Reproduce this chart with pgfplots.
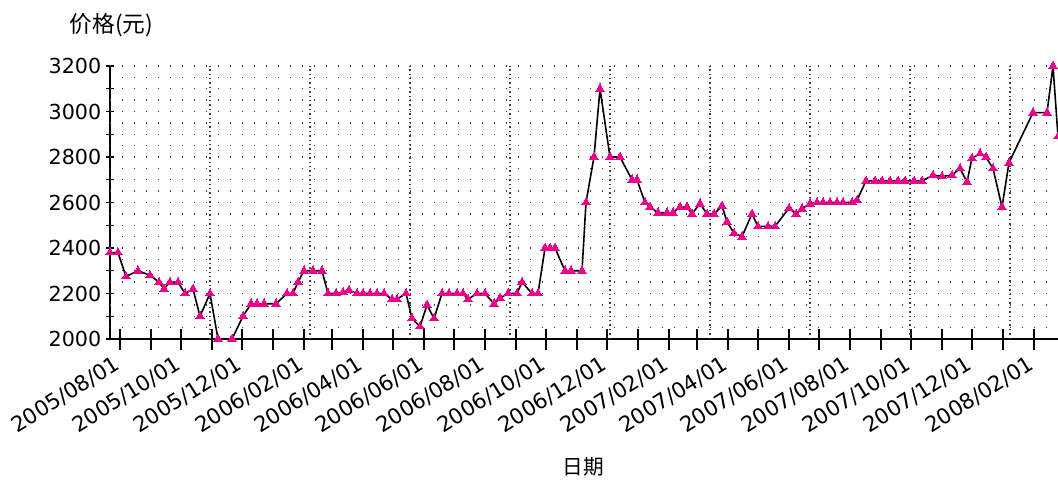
\documentclass[border=0pt]{standalone}
\usepackage{pgfplots}
\pgfplotsset{compat=1.18}
\usepackage{fontspec}
\setmainfont{DejaVu Sans}
\newfontfamily\cjk{Noto Sans CJK SC}

\tikzset{dots/.style={black!75, line width=1.1pt, dash pattern=on 1.1pt off #1}}
\pgfplotsset{
  frame/.style={
    at={(82.5pt,-254.25pt)}, anchor=south west,
    scale only axis, width=711pt, height=204.75pt,
    xmin=-10, xmax=938, ymin=2000, ymax=3200,
    axis line style={line width=1.5pt},
    tick align=center,
    tick style={line width=1.1pt, black},
  },
}

% x = days since 2005/08/01, y = price
\begin{document}
\begin{tikzpicture}
\path[use as bounding box] (0,0) rectangle (793.5pt,-359.25pt);
% y axis, its labels and the row grid
\begin{axis}[frame,
  axis x line=none, axis y line*=left,
  major tick length=6pt, minor tick length=6pt,
  ytick={2000,2200,...,3200},
  minor ytick={2100,2300,...,3100},
  /pgf/number format/assume math mode=true,
  /pgf/number format/1000 sep={},
  yticklabel style={anchor=east, font=\fontsize{15.5}{18}\selectfont},
  extra y ticks={2050,2100,...,3200},
  extra y tick labels={},
  extra y tick style={grid=major, major tick length=0pt,
    major grid style={dots=7.9pt}},
]
\end{axis}
% x axis, column grid and data
\begin{axis}[frame,
  clip=false,
  axis x line*=bottom, axis y line=none,
  major tick length=15.75pt, minor tick length=15.75pt,
  xtick={0,61,122,184,243,304,365,426,487,549,608,669,730,791,852,914},
  xticklabels={2005/08/01,2005/10/01,2005/12/01,2006/02/01,2006/04/01,2006/06/01,2006/08/01,2006/10/01,2006/12/01,2007/02/01,2007/04/01,2007/06/01,2007/08/01,2007/10/01,2007/12/01,2008/02/01},
  minor xtick={31,92,153,212,273,334,396,457,518,577,638,699,761,822,883},
  xticklabel style={rotate=32, anchor=north east, xshift=-3pt, yshift=3pt,
    font=\fontsize{16}{18}\selectfont},
  extra x ticks={90,190,...,890},
  extra x tick labels={},
  extra x tick style={grid=major, major tick length=0pt,
    major grid style={dots=2.2pt}},
]
\addplot[black, line width=1.2pt, mark=triangle*, mark size=3.6pt,
  mark options={fill=magenta, draw=magenta, line width=0pt}] coordinates {
(-10,2380)(-2,2380)(6,2275)(18,2300)(30,2280)(39,2250)(44,2220)(50,2250)(58,2250)(65,2200)
(73,2220)(80,2100)(90,2200)(98,2000)(112,2000)(123,2100)(131,2155)(137,2155)(144,2155)(156,2155)
(167,2200)(173,2200)(178,2250)(184,2300)(193,2300)(202,2300)(208,2200)(216,2200)(223,2205)(229,2215)
(237,2200)(243,2200)(250,2200)(257,2200)(264,2200)(272,2175)(277,2175)(286,2200)(292,2090)(300,2055)
(307,2150)(314,2090)(322,2200)(329,2200)(337,2200)(343,2200)(348,2175)(357,2200)(365,2200)(374,2155)
(380,2180)(388,2200)(397,2200)(402,2250)(412,2200)(418,2200)(425,2400)(430,2400)(435,2400)(445,2300)
(451,2300)(462,2300)(466,2600)(474,2800)(480,3100)(490,2800)(500,2800)(512,2700)(517,2700)(525,2600)
(530,2580)(538,2555)(547,2555)(553,2555)(560,2580)(567,2580)(572,2550)(580,2595)(587,2550)(594,2550)
(602,2585)(607,2515)(614,2465)(622,2450)(632,2550)(638,2495)(648,2495)(655,2495)(669,2575)(676,2550)
(682,2573)(690,2595)(697,2600)(703,2600)(710,2600)(717,2600)(723,2600)(732,2600)(737,2610)(746,2695)
(755,2695)(762,2695)(770,2695)(778,2695)(785,2695)(794,2695)(802,2695)(813,2720)(822,2715)(832,2720)
(840,2750)(847,2690)(852,2795)(860,2815)(866,2800)(873,2750)(882,2580)(889,2775)(913,2995)(927,2995)
(933,3200)(938,2890)
};
\end{axis}
\node[anchor=west, font=\cjk\fontsize{17}{20}\selectfont] at (48.75pt,-18.75pt) {价格(元)};
\node[font=\cjk\fontsize{15.5}{18}\selectfont] at (437.25pt,-350.25pt) {日期};
\end{tikzpicture}
\end{document}
